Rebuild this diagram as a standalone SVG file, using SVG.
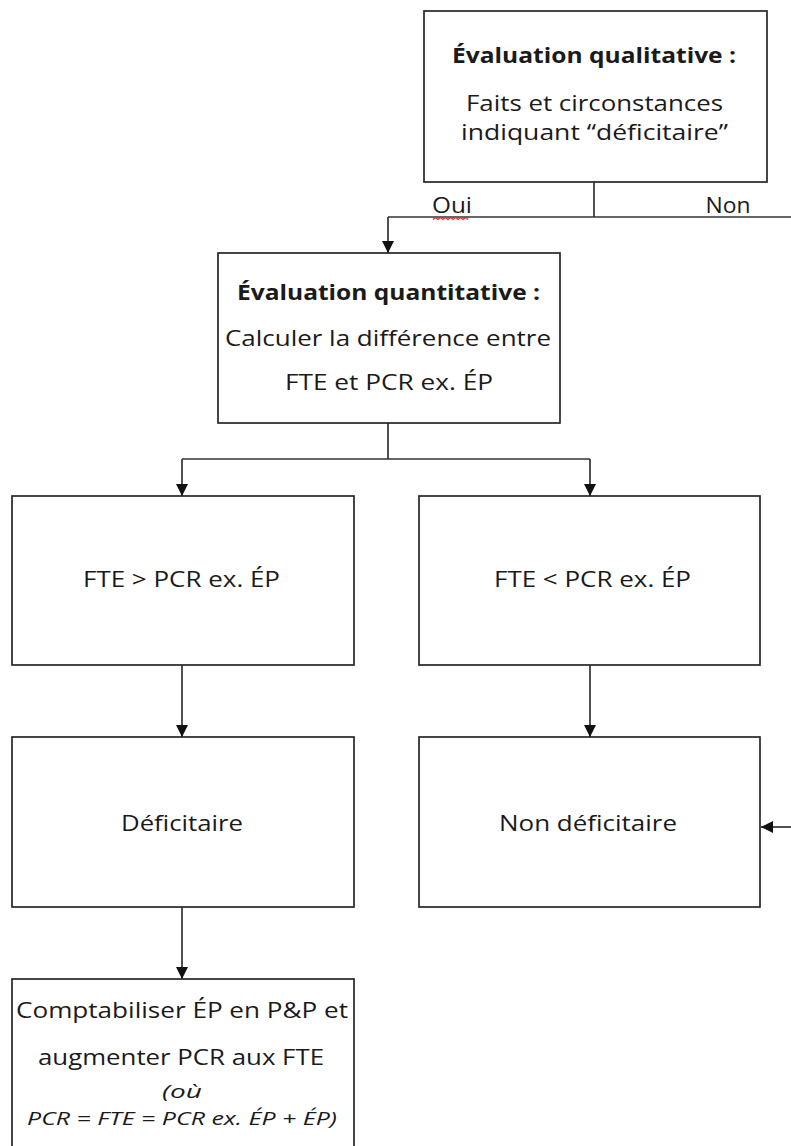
<svg xmlns="http://www.w3.org/2000/svg" width="791" height="1146" viewBox="0 0 791 1146">
<defs>
<marker id="arr" markerUnits="userSpaceOnUse" markerWidth="12" markerHeight="14" viewBox="0 0 12 14" refX="12" refY="6" orient="auto">
<path d="M0,0 L12,6 L0,12 Z" fill="#111111"/>
</marker>
<style>
.box{fill:#ffffff;stroke:#262626;stroke-width:1.7}
.con{fill:none;stroke:#333333;stroke-width:1.7}
.t{font-family:"Open Sans","Noto Sans","Liberation Sans",sans-serif;font-size:22px;fill:#1a1a1a;text-anchor:middle}
.b{font-weight:bold}
.i{font-style:italic;font-size:19px}
.lbl{font-family:"Open Sans","Noto Sans","Liberation Sans",sans-serif;font-size:21px;fill:#1a1a1a;text-anchor:middle}
</style>
</defs>
<rect width="791" height="1146" fill="#ffffff"/>
<g id="connectors">
<path class="con" d="M594,182 V217"/>
<path class="con" d="M791,217 H388"/>
<path class="con" d="M388,217 V253" marker-end="url(#arr)"/>
<path class="con" d="M388,423 V459"/>
<path class="con" d="M182,459 H590"/>
<path class="con" d="M182,459 V496" marker-end="url(#arr)"/>
<path class="con" d="M590,459 V496" marker-end="url(#arr)"/>
<path class="con" d="M182,665 V737" marker-end="url(#arr)"/>
<path class="con" d="M590,665 V737" marker-end="url(#arr)"/>
<path class="con" d="M182,907 V979" marker-end="url(#arr)"/>
<path class="con" d="M791,827 H761" marker-end="url(#arr)"/>
<text class="lbl" x="452" y="213" textLength="40" lengthAdjust="spacingAndGlyphs">Oui</text>
<path d="M433,219.5 l2.5,-2 l2.5,2 l2.5,-2 l2.5,2 l2.5,-2 l2.5,2 l2.5,-2 l2.5,2 l2.5,-2 l2.5,2 l2.5,-2 l2.5,2 l2.5,-2 l2.5,2" fill="none" stroke="#e03030" stroke-width="1.3"/>
<text class="lbl" x="728" y="213" textLength="45" lengthAdjust="spacingAndGlyphs">Non</text>
</g>
<g id="qualitative">
<rect class="box" x="424" y="11" width="343" height="171"/>
<text class="t b" x="594" y="63" textLength="284" lengthAdjust="spacingAndGlyphs">Évaluation qualitative :</text>
<text class="t" x="594.5" y="111" textLength="257" lengthAdjust="spacingAndGlyphs">Faits et circonstances</text>
<text class="t" x="594.5" y="140" textLength="267" lengthAdjust="spacingAndGlyphs">indiquant “déficitaire”</text>
</g>
<g id="quantitative">
<rect class="box" x="218" y="253" width="342" height="170"/>
<text class="t b" x="388.5" y="300" textLength="303" lengthAdjust="spacingAndGlyphs">Évaluation quantitative :</text>
<text class="t" x="388" y="346" textLength="326" lengthAdjust="spacingAndGlyphs">Calculer la différence entre</text>
<text class="t" x="389" y="390" textLength="208" lengthAdjust="spacingAndGlyphs">FTE et PCR ex. ÉP</text>
</g>
<g id="fte-greater">
<rect class="box" x="12" y="496" width="342" height="169"/>
<text class="t" x="181.5" y="587" textLength="197" lengthAdjust="spacingAndGlyphs">FTE &gt; PCR ex. ÉP</text>
</g>
<g id="fte-less">
<rect class="box" x="419" y="496" width="341" height="169"/>
<text class="t" x="592.5" y="587" textLength="197" lengthAdjust="spacingAndGlyphs">FTE &lt; PCR ex. ÉP</text>
</g>
<g id="deficitaire">
<rect class="box" x="12" y="737" width="342" height="170"/>
<text class="t" x="182" y="831" textLength="122" lengthAdjust="spacingAndGlyphs">Déficitaire</text>
</g>
<g id="non-deficitaire">
<rect class="box" x="419" y="737" width="341" height="170"/>
<text class="t" x="588" y="831" textLength="178" lengthAdjust="spacingAndGlyphs">Non déficitaire</text>
</g>
<g id="comptabiliser">
<rect class="box" x="12" y="979" width="342" height="180"/>
<text class="t" x="182" y="1018" textLength="332" lengthAdjust="spacingAndGlyphs">Comptabiliser ÉP en P&amp;P et</text>
<text class="t" x="181" y="1065" textLength="286" lengthAdjust="spacingAndGlyphs">augmenter PCR aux FTE</text>
<text class="t i" x="182" y="1098" textLength="40" lengthAdjust="spacingAndGlyphs">(où</text>
<text class="t i" x="182" y="1125" textLength="310" lengthAdjust="spacingAndGlyphs">PCR = FTE = PCR ex. ÉP + ÉP)</text>
</g>
</svg>
